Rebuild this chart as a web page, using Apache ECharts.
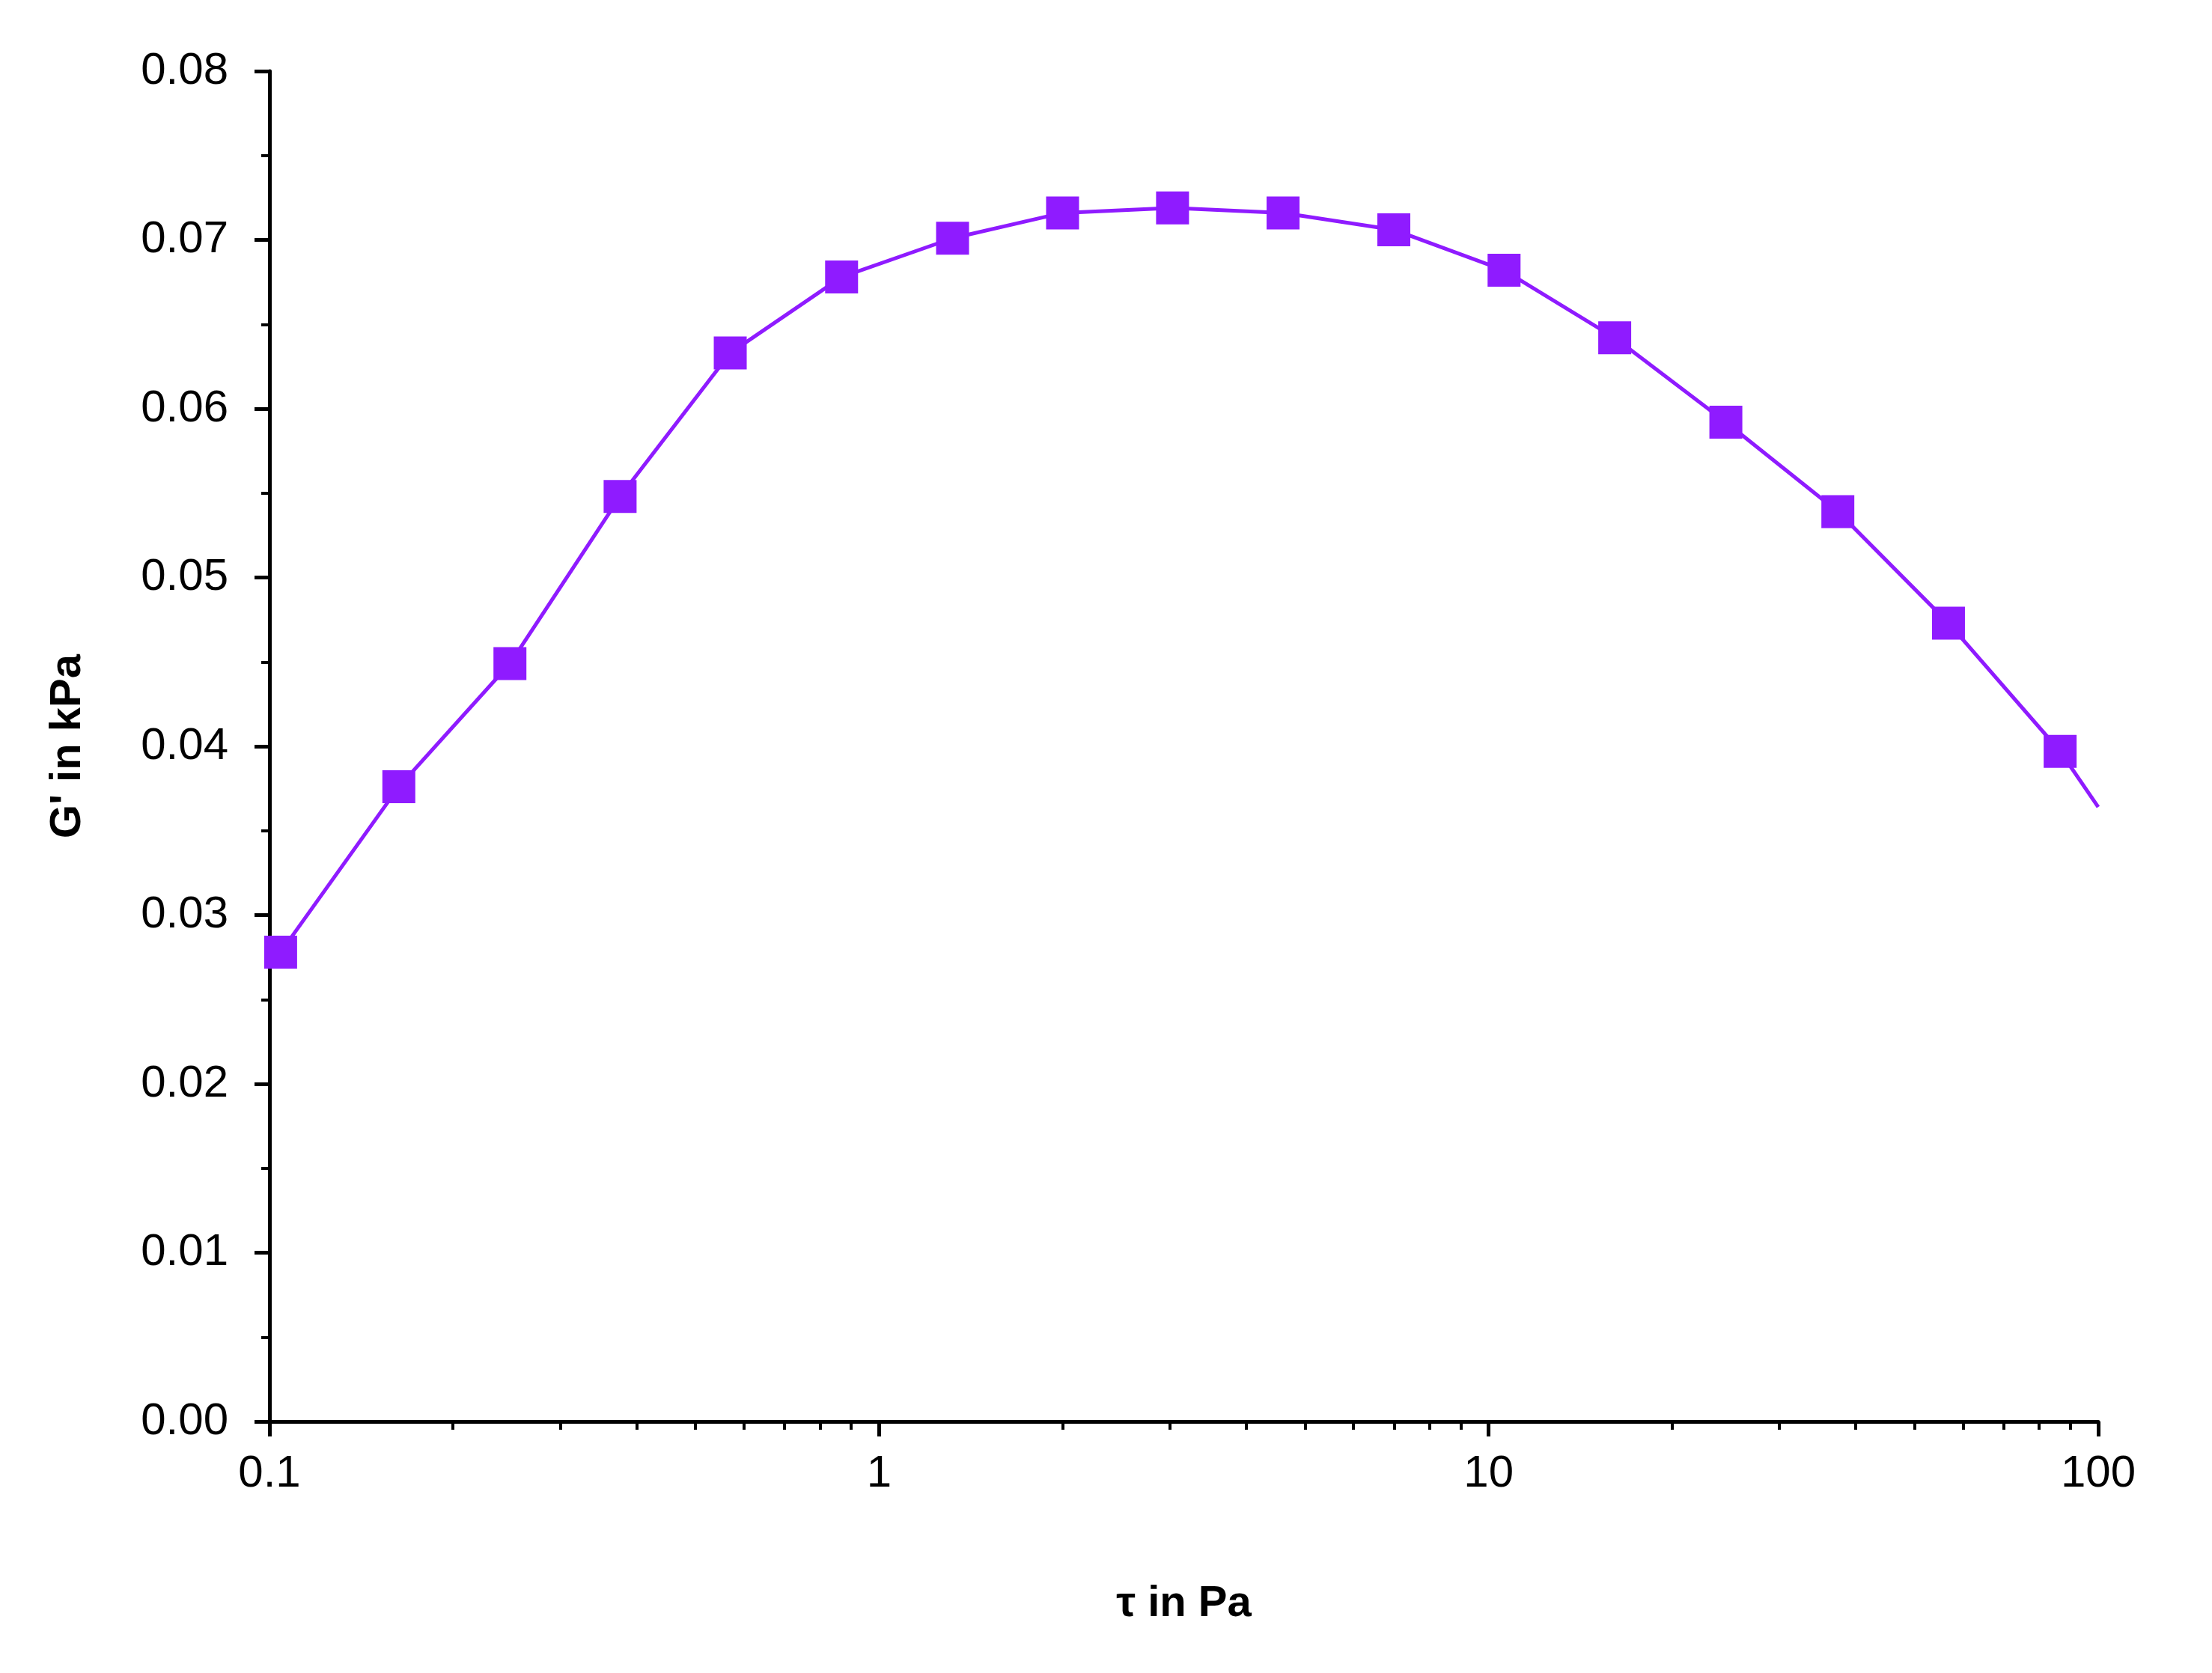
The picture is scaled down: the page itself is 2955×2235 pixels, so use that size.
<!DOCTYPE html>
<html><head><meta charset="utf-8">
<script src="https://cdn.jsdelivr.net/npm/echarts@6/dist/echarts.min.js"></script>
<style>html,body{margin:0;background:#fff}#c{width:2955px;height:2235px}</style>
</head><body><div id="c"></div>
<script>
const tau = [0.1043,0.163,0.248,0.376,0.570,0.868,1.32,2.00,3.03,4.60,6.99,10.6,16.1,24.5,37.4,56.8,86.6];
const gPrime = [0.0278,0.0376,0.0449,0.0548,0.0633,0.0678,0.0701,0.0716,0.0719,0.0716,0.0706,0.0682,0.0642,0.0592,0.0539,0.0473,0.0397];
const lineEnd = [100,0.0364];
const yTicks = [0,0.01,0.02,0.03,0.04,0.05,0.06,0.07,0.08];
const data = tau.map((t,i)=>[t,gPrime[i]]);
const chart = echarts.init(document.getElementById('c'));
const axisFont = {fontFamily:'Liberation Sans, Arial', fontSize:60, color:'#000'};
chart.setOption({
  backgroundColor:'#fff',
  animation:false,
  grid:{left:360,right:152,top:95,bottom:336},
  xAxis:{type:'log',min:0.1,max:100,logBase:10,
    name:'τ in Pa',nameLocation:'middle',nameGap:215,
    nameTextStyle:{fontFamily:'Liberation Sans, Arial',fontSize:58,fontWeight:'bold',color:'#000'},
    axisLine:{lineStyle:{color:'#000',width:5}},
    axisTick:{show:true,length:20,lineStyle:{color:'#000',width:5}},
    minorTick:{show:true,splitNumber:9,length:11,lineStyle:{color:'#000',width:4}},
    axisLabel:Object.assign({margin:40,formatter:v=>String(v)},axisFont),
    splitLine:{show:false}},
  yAxis:{type:'value',min:0,max:0.08,interval:0.01,
    name:"G' in kPa",nameLocation:'middle',nameGap:240,
    nameTextStyle:{fontFamily:'Liberation Sans, Arial',fontSize:58,fontWeight:'bold',color:'#000'},
    axisLine:{show:true,lineStyle:{color:'#000',width:5}},
    axisTick:{show:true,length:20,lineStyle:{color:'#000',width:5}},
    minorTick:{show:true,splitNumber:2,length:11,lineStyle:{color:'#000',width:4}},
    axisLabel:Object.assign({margin:55,formatter:v=>v.toFixed(2)},axisFont),
    splitLine:{show:false}},
  series:[{type:'line',data:data.concat([{value:lineEnd,symbol:'none'}]),
    symbol:'rect',symbolSize:44,
    itemStyle:{color:'#8f1bff'},lineStyle:{color:'#8f1bff',width:5},clip:true}]
});
</script></body></html>
